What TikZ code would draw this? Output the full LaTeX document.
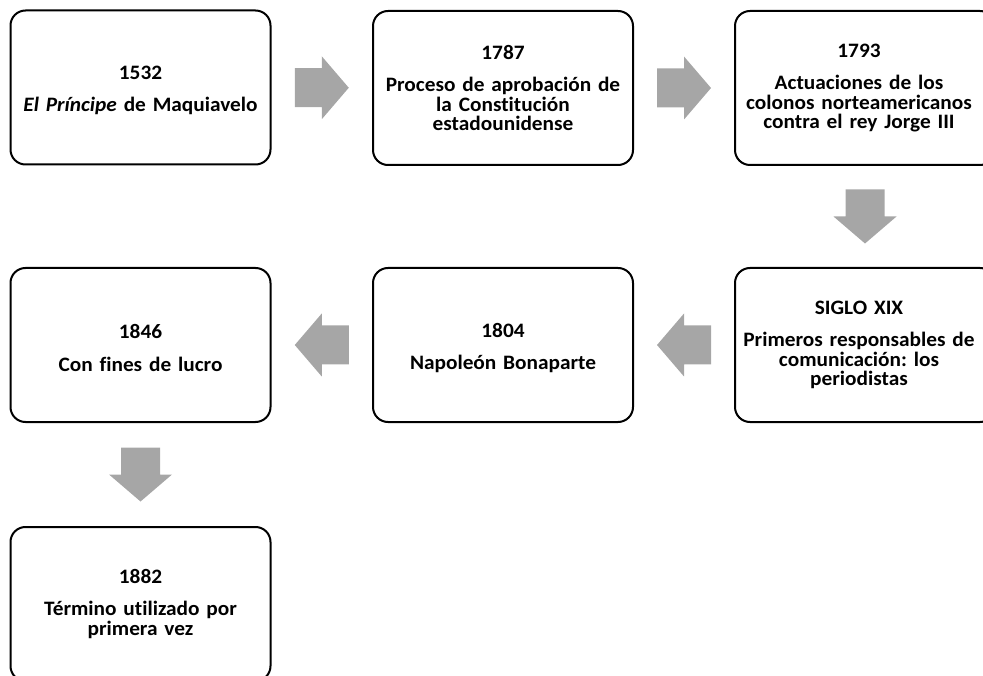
\documentclass[tikz,border=0pt]{standalone}
\usepackage{fontspec}
\setmainfont{Carlito}[FakeStretch=1.04, Ligatures={NoCommon,NoContextual,NoRequired}, Contextuals=NoAlternate]
\frenchspacing
\usetikzlibrary{calc}
\definecolor{arrowgray}{HTML}{A6A6A6}
\tikzset{
  boxtext/.style={inner sep=0pt, align=center, text width=252pt,
    font=\fontsize{20.5}{19.5}\selectfont\bfseries},
  box/.style={draw=black, line width=2pt, rounded corners=15pt, minimum width=260pt,
    minimum height=154pt, inner sep=0pt, outer sep=0pt, boxtext},
  pics/rarr/.style={code={\fill[arrowgray] (-27,-19.5) -- (0,-19.5) -- (0,-31.5) -- (27,0) -- (0,31.5) -- (0,19.5) -- (-27,19.5) -- cycle;}}
}
\newcommand{\yr}[1]{#1\\[13pt]}
\begin{document}
\begin{tikzpicture}[x=1pt,y=-1pt]
\useasboundingbox (0,0) rectangle (983,676);
\node[box, label={[boxtext, yshift=-3pt]center:{\yr{1532}\textit{El Príncipe} de Maquiavelo}}] (b1) at (140.5,87.5) {};
\node[box] (b2) at (503,88) {\yr{1787}Proceso de aprobación de\\la Constit\kern0pt ución\\estadounidense};
\node[box, label={[boxtext, xshift=-6pt]center:{\yr{1793}Actuaciones de los\\colonos norteamericanos\\contra el rey Jorge III}}] (b3) at (865,88) {};
\node[box, label={[boxtext, xshift=-6pt]center:{\yr{SIGLO XIX}Primeros responsables de\\comunicación: los\\periodistas}}] (b4) at (865,345) {};
\node[box, label={[boxtext, yshift=-3pt]center:{\yr{1804}Napoleón Bonaparte}}] (b5) at (503,345) {};
\node[box, label={[boxtext, yshift=-3pt]center:{\yr{1846}Con fines de lucro}}] (b6) at (140.5,345) {};
\node[box] (b7) at (140.5,604) {\yr{1882}Término ut\kern0pt ilizado por\\primera vez};
\coordinate (a1) at ($(b1.east)!0.5!(b2.west)$);
\coordinate (a2) at ($(b2.east)!0.5!(b3.west)$);
\coordinate (a3) at ($(b3.south)!0.5!(b4.north)$);
\coordinate (a4) at ($(b4.west)!0.5!(b5.east)$);
\coordinate (a5) at ($(b5.west)!0.5!(b6.east)$);
\coordinate (a6) at ($(b6.south)!0.5!(b7.north)$);
\pic at (a1) {rarr};
\pic at (a2) {rarr};
\pic[rotate=-90] at (a3) {rarr};
\pic[rotate=180] at (a4) {rarr};
\pic[rotate=180] at (a5) {rarr};
\pic[rotate=-90] at (a6) {rarr};
\end{tikzpicture}
\end{document}
